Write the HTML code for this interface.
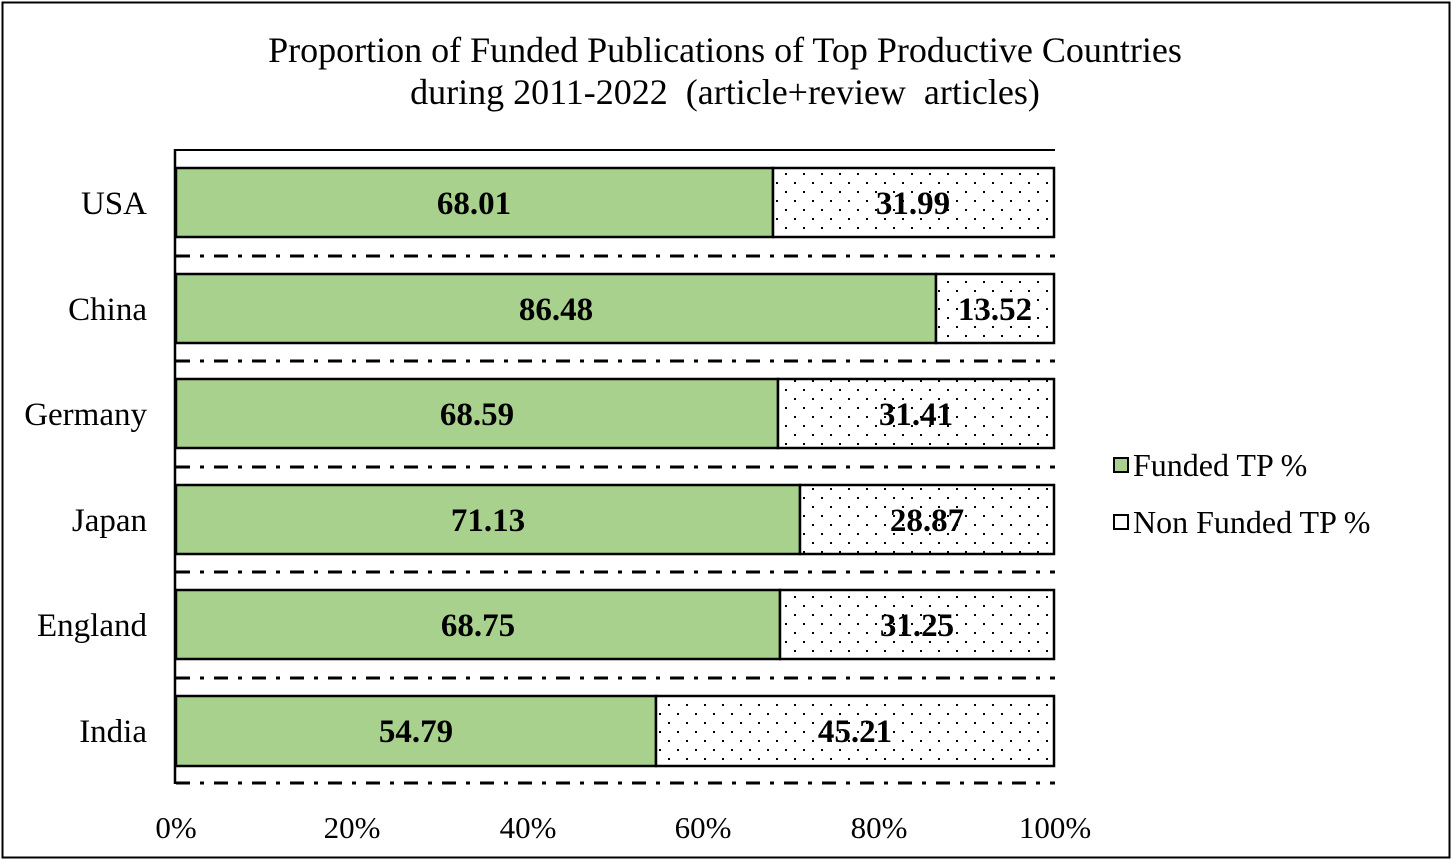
<!DOCTYPE html>
<html><head><style>
html,body{margin:0;padding:0;background:#fff;}
</style></head><body>
<svg width="1456" height="863" xmlns="http://www.w3.org/2000/svg" font-family="Liberation Serif, serif">
<defs>
<pattern id="dots" width="18" height="18" patternUnits="userSpaceOnUse">
<rect width="18" height="18" fill="#fff"/>
<rect x="2" y="2" width="2" height="2" fill="#000"/>
<rect x="11" y="11" width="2" height="2" fill="#000"/>
</pattern>
</defs>
<rect x="2.5" y="2.5" width="1447" height="855" fill="#fff" stroke="#000" stroke-width="2"/>
<text x="725" y="62" text-anchor="middle" font-size="36">Proportion of Funded Publications of Top Productive Countries</text>
<text x="725" y="104" text-anchor="middle" font-size="36" xml:space="preserve">during 2011-2022  (article+review  articles)</text>
<line x1="175" y1="150" x2="1055" y2="150" stroke="#000" stroke-width="2"/>
<g stroke="#000" stroke-width="3" stroke-dasharray="14,10,4,10">
<line x1="176" y1="256" x2="1055" y2="256"/>
<line x1="176" y1="361" x2="1055" y2="361"/>
<line x1="176" y1="467" x2="1055" y2="467"/>
<line x1="176" y1="572" x2="1055" y2="572"/>
<line x1="176" y1="678" x2="1055" y2="678"/>
<line x1="176" y1="783" x2="1055" y2="783"/>
</g>
<g stroke="#000" stroke-width="2.5">
<rect x="176" y="168" width="597" height="69" fill="#a9d18e"/>
<rect x="773" y="168" width="281" height="69" fill="url(#dots)"/>
<rect x="176" y="274" width="760" height="69" fill="#a9d18e"/>
<rect x="936" y="274" width="118" height="69" fill="url(#dots)"/>
<rect x="176" y="379" width="602" height="69" fill="#a9d18e"/>
<rect x="778" y="379" width="276" height="69" fill="url(#dots)"/>
<rect x="176" y="485" width="624" height="69" fill="#a9d18e"/>
<rect x="800" y="485" width="254" height="69" fill="url(#dots)"/>
<rect x="176" y="590" width="604" height="69" fill="#a9d18e"/>
<rect x="780" y="590" width="274" height="69" fill="url(#dots)"/>
<rect x="176" y="696" width="480" height="70" fill="#a9d18e"/>
<rect x="656" y="696" width="398" height="70" fill="url(#dots)"/>
</g>
<line x1="175" y1="149" x2="175" y2="784" stroke="#000" stroke-width="2.5"/>
<g font-size="33" font-weight="bold" text-anchor="middle">
<text x="474" y="214">68.01</text><text x="913" y="214">31.99</text>
<text x="556" y="320">86.48</text><text x="995" y="320">13.52</text>
<text x="477" y="425">68.59</text><text x="916" y="425">31.41</text>
<text x="488" y="531">71.13</text><text x="927" y="531">28.87</text>
<text x="478" y="636">68.75</text><text x="917" y="636">31.25</text>
<text x="416" y="742">54.79</text><text x="855" y="742">45.21</text>
</g>
<g font-size="33" text-anchor="end">
<text x="147" y="214">USA</text>
<text x="147" y="320">China</text>
<text x="147" y="425">Germany</text>
<text x="147" y="531">Japan</text>
<text x="147" y="636">England</text>
<text x="147" y="742">India</text>
</g>
<g font-size="31" text-anchor="middle">
<text x="176" y="838">0%</text>
<text x="352" y="838">20%</text>
<text x="528" y="838">40%</text>
<text x="703" y="838">60%</text>
<text x="879" y="838">80%</text>
<text x="1055" y="838">100%</text>
</g>
<rect x="1114" y="458" width="14" height="14" fill="#a9d18e" stroke="#000" stroke-width="2"/>
<text x="1133" y="476" font-size="32">Funded TP %</text>
<rect x="1114" y="515" width="14" height="14" fill="#fff" stroke="#000" stroke-width="2"/>
<text x="1133" y="533" font-size="32">Non Funded TP %</text>
</svg>
</body></html>
